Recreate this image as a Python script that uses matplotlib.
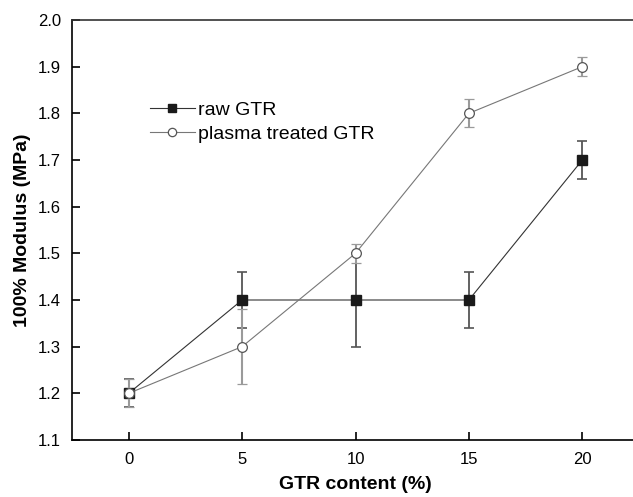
"""100% modulus vs GTR content, raw vs plasma treated GTR."""
import matplotlib

matplotlib.use("Agg")
import matplotlib.pyplot as plt
from matplotlib.lines import Line2D

plt.rcParams.update(
    {
        "font.family": ["Liberation Sans", "DejaVu Sans"],
        "axes.linewidth": 1.2,
        "xtick.direction": "in",
        "ytick.direction": "in",
    }
)

gtr_content = [0, 5, 10, 15, 20]
raw_modulus = [1.2, 1.4, 1.4, 1.4, 1.7]
raw_err = [0.03, 0.06, 0.10, 0.06, 0.04]
plasma_modulus = [1.2, 1.3, 1.5, 1.8, 1.9]
plasma_err = [0.03, 0.08, 0.02, 0.03, 0.02]
x_ticks = [0, 5, 10, 15, 20]
y_ticks = [1.1, 1.2, 1.3, 1.4, 1.5, 1.6, 1.7, 1.8, 1.9, 2.0]

RAW_STYLE = dict(color="#333333", linewidth=0.8, marker="s",
                 markerfacecolor="#1a1a1a", markeredgecolor="#1a1a1a")
PLASMA_STYLE = dict(color="#777777", linewidth=0.8, marker="o",
                    markerfacecolor="white", markeredgecolor="#555555",
                    markeredgewidth=0.9)

fig = plt.figure(figsize=(6.33, 4.97), dpi=100)
ax = fig.add_axes([72 / 633, 1 - 440 / 497, (639 - 72) / 633, 420 / 497])

ax.errorbar(gtr_content, raw_modulus, yerr=raw_err, ecolor="#555555",
            elinewidth=1.3, capsize=3.5, capthick=1.2, zorder=3,
            markersize=6.5, **RAW_STYLE)
ax.errorbar(gtr_content, plasma_modulus, yerr=plasma_err, ecolor="#9a9a9a",
            elinewidth=1.5, capsize=3.5, capthick=1.2, zorder=4,
            markersize=7, **PLASMA_STYLE)

ax.set_xlim(-2.5, 22.5)
ax.set_ylim(1.1, 2.0)
ax.set_xticks(x_ticks)
ax.set_yticks(y_ticks)
ax.set_yticklabels([f"{v:.1f}" for v in y_ticks])
ax.tick_params(axis="both", labelsize=12, length=6, width=1.2, pad=8)
ax.tick_params(axis="x", pad=9)
ax.spines["right"].set_visible(False)
ax.spines["top"].set_color("#333333")

ax.set_xlabel("GTR content (%)", fontsize=14, fontweight="bold", labelpad=6)
ax.set_ylabel("100% Modulus (MPa)", fontsize=14, fontweight="bold", labelpad=5)

# legend handles: line + marker only, no error bars
handles = [
    Line2D([], [], markersize=6, **RAW_STYLE),
    Line2D([], [], markersize=6, **PLASMA_STYLE),
]
ax.legend(
    handles, ["raw GTR", "plasma treated GTR"],
    loc="upper left", bbox_to_anchor=(150 / 633, 1 - 101 / 497),
    bbox_transform=fig.transFigure, frameon=False, fontsize=14,
    handlelength=2.3, handletextpad=0.15, labelspacing=0.35, borderpad=0,
    borderaxespad=0,
)

fig.savefig("out.png", dpi=100)
